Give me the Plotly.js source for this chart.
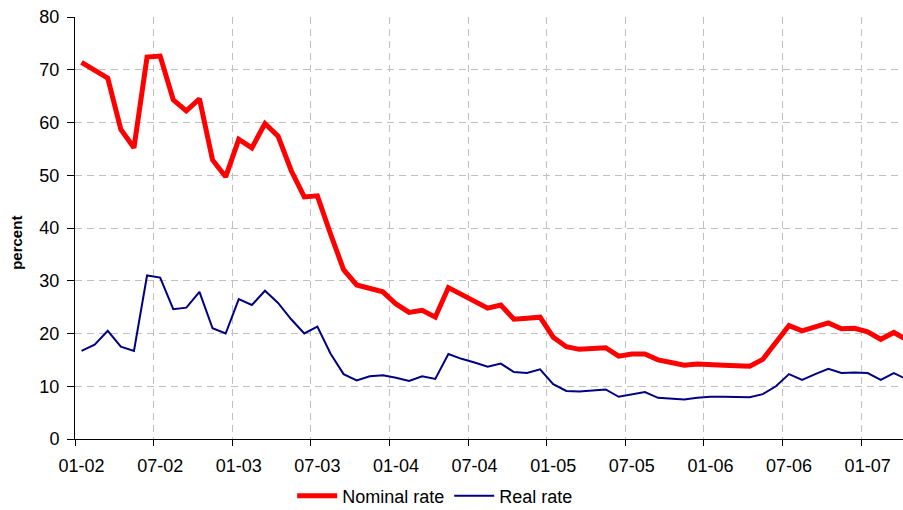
<!DOCTYPE html>
<html>
<head>
<meta charset="utf-8">
<script src="https://cdn.plot.ly/plotly-3.0.1.min.js"></script>
<style>
  html, body { margin: 0; padding: 0; background: #fff; }
  #chart { width: 903px; height: 510px; }
</style>
</head>
<body>
<div id="chart"></div>
<script>
const months = [
  "01-02","02-02","03-02","04-02","05-02","06-02","07-02","08-02","09-02","10-02","11-02","12-02",
  "01-03","02-03","03-03","04-03","05-03","06-03","07-03","08-03","09-03","10-03","11-03","12-03",
  "01-04","02-04","03-04","04-04","05-04","06-04","07-04","08-04","09-04","10-04","11-04","12-04",
  "01-05","02-05","03-05","04-05","05-05","06-05","07-05","08-05","09-05","10-05","11-05","12-05",
  "01-06","02-06","03-06","04-06","05-06","06-06","07-06","08-06","09-06","10-06","11-06","12-06",
  "01-07","02-07","03-07","04-07"
];

const nominalRate = [
  71.4, 70.0, 68.4, 58.7, 55.2, 72.4, 72.6, 64.3, 62.2, 64.5, 52.9, 49.7,
  56.8, 55.2, 59.8, 57.4, 50.9, 45.9, 46.1, 38.9, 32.1, 29.2, 28.6, 27.9,
  25.6, 24.0, 24.4, 23.1, 28.7, 27.4, 26.3, 24.8, 25.4, 22.7, 22.9, 23.1,
  19.3, 17.5, 17.0, 17.2, 17.3, 15.7, 16.1, 16.1, 15.0, 14.5, 14.0, 14.2,
  14.0, 14.0, 13.9, 13.8, 15.1, 18.4, 21.5, 20.5, 21.3, 22.0, 20.9, 21.0,
  20.3, 18.9, 20.2, 18.8
];

const realRate = [
  16.7, 17.9, 20.5, 17.5, 16.7, 31.0, 30.6, 24.6, 24.9, 27.9, 21.0, 20.0,
  26.5, 25.4, 28.1, 25.8, 22.7, 20.0, 21.3, 16.2, 12.3, 11.1, 11.9, 12.1,
  11.6, 11.0, 11.9, 11.4, 16.1, 15.2, 14.5, 13.7, 14.3, 12.7, 12.5, 13.2,
  10.4, 9.1, 9.0, 9.2, 9.4, 8.0, 8.5, 8.9, 7.8, 7.7, 7.5, 7.8,
  8.0, 8.0, 7.9, 7.9, 8.5, 10.0, 12.3, 11.2, 12.3, 13.3, 12.5, 12.6,
  12.5, 11.2, 12.5, 11.3
];

const seriesNames = ["Nominal rate", "Real rate"];
const yTicks = [0, 10, 20, 30, 40, 50, 60, 70, 80];
const yTitle = "percent";

const FONT = "Liberation Sans, Arial, sans-serif";

const traces = [
  {
    x: months, y: nominalRate, name: seriesNames[0],
    type: "scatter", mode: "lines",
    line: { color: "#FF0000", width: 5 }
  },
  {
    x: months, y: realRate, name: seriesNames[1],
    type: "scatter", mode: "lines",
    line: { color: "#000080", width: 2 }
  }
];

const layout = {
  width: 903, height: 510,
  margin: { l: 75, r: 0, t: 17, b: 71, autoexpand: false },
  paper_bgcolor: "#ffffff",
  plot_bgcolor: "#ffffff",
  font: { family: FONT, size: 17, color: "#000" },
  showlegend: true,
  legend: {
    orientation: "h",
    x: 0.435, xanchor: "center",
    y: -0.135, yanchor: "middle",
    font: { family: FONT, size: 18, color: "#000" },
    bgcolor: "rgba(0,0,0,0)",
    itemwidth: 40,
    tracegroupgap: 0
  },
  annotations: [{
    text: "<b>" + yTitle + "</b>",
    xref: "paper", yref: "paper",
    x: -0.070, y: 0.465,
    xanchor: "center", yanchor: "middle",
    textangle: -90,
    showarrow: false,
    font: { family: FONT, size: 15, color: "#000" }
  }],
  xaxis: {
    type: "category",
    automargin: false,
    range: [-0.5, 62.7],
    tickmode: "linear", tick0: 0, dtick: 6,
    tickson: "boundaries",
    tickangle: 0,
    ticks: "outside", ticklen: 6, tickcolor: "#000", tickwidth: 1,
    ticklabelstandoff: 10,
    showline: true, linecolor: "#000", linewidth: 1,
    showgrid: true, gridcolor: "#c0c0c0", griddash: "7px,5px", gridwidth: 1,
    zeroline: false,
    tickfont: { family: FONT, size: 18, color: "#000" },
    fixedrange: true
  },
  yaxis: {
    automargin: false,
    range: [0, 80],
    tickvals: yTicks,
    ticks: "outside", ticklen: 7, tickcolor: "#000", tickwidth: 1,
    ticklabelstandoff: 4,
    showline: true, linecolor: "#000", linewidth: 1,
    showgrid: true, gridcolor: "#c0c0c0", griddash: "7px,5px", gridwidth: 1,
    zeroline: false,
    tickfont: { family: FONT, size: 18, color: "#000" },
    fixedrange: true
  }
};

Plotly.newPlot("chart", traces, layout, { staticPlot: true, displayModeBar: false });
</script>
</body>
</html>
